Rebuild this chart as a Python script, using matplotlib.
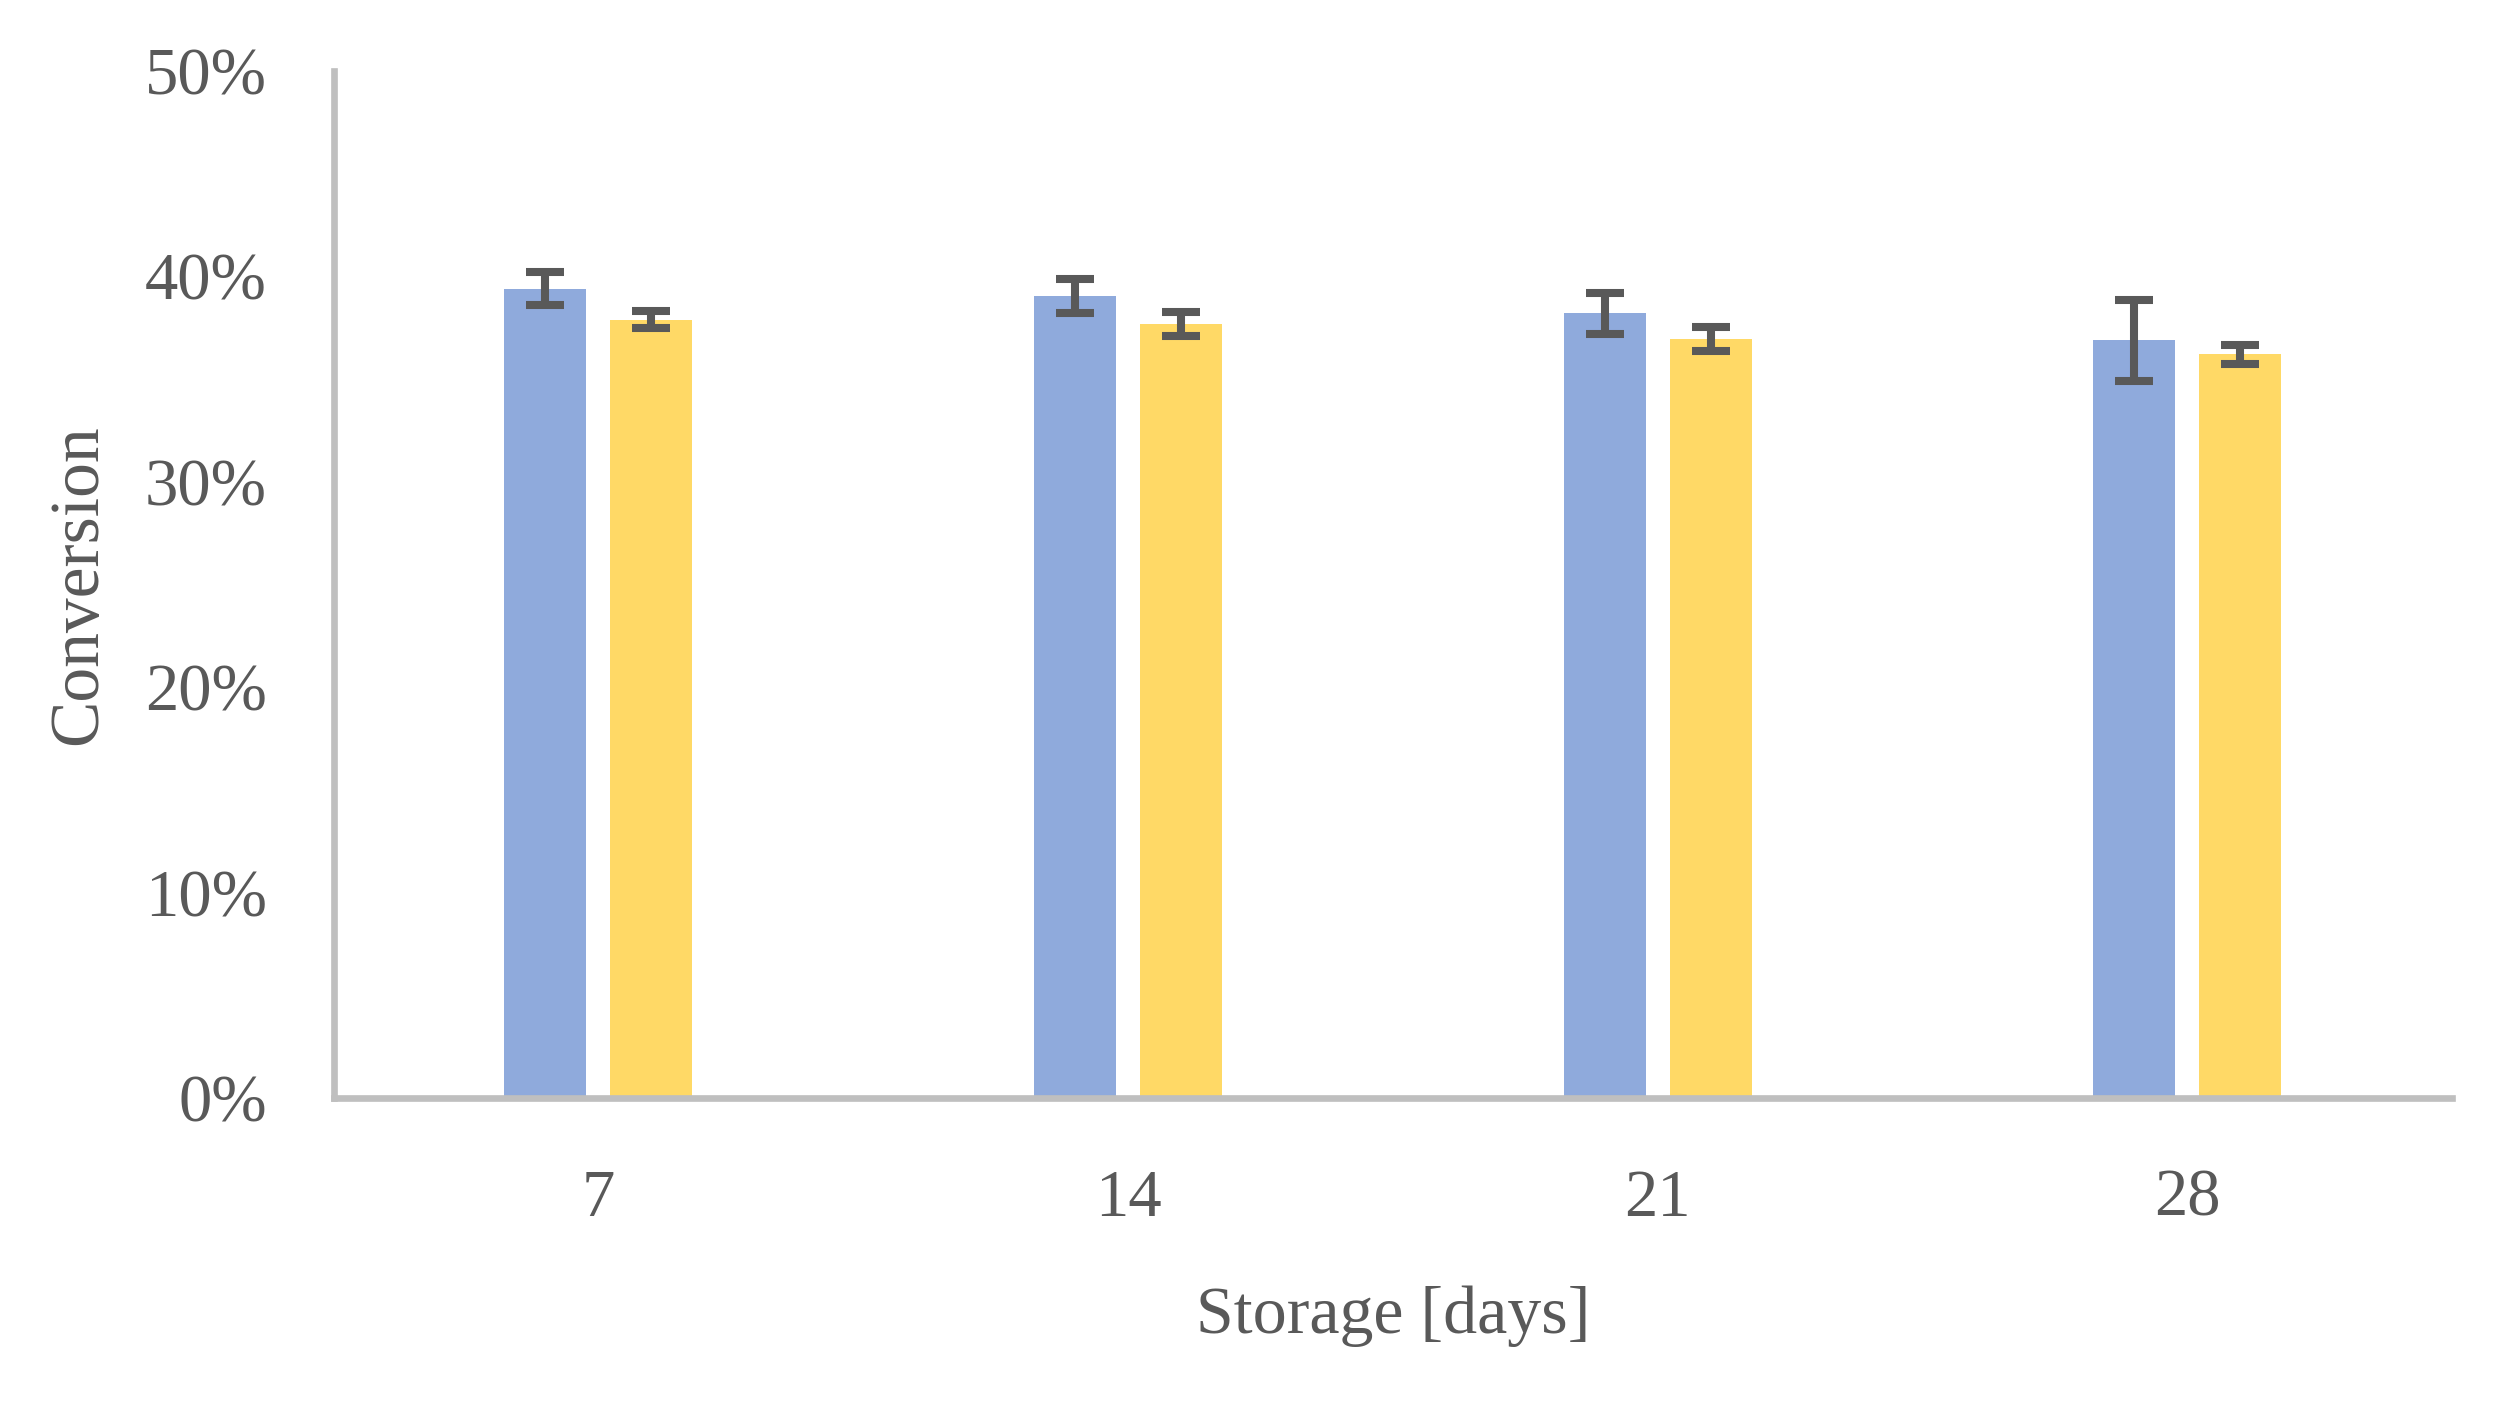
import numpy as np
import matplotlib
matplotlib.use('Agg')
import matplotlib.pyplot as plt
from matplotlib.ticker import PercentFormatter

days = ['7', '14', '21', '28']
series_a = [39.4, 39.05, 38.2, 36.9]
series_a_err = [0.8, 0.83, 1.0, 1.97]
series_b = [37.9, 37.7, 36.95, 36.2]
series_b_err = [0.43, 0.58, 0.58, 0.46]

text_color = '#595959'
axis_color = '#BFBFBF'
plt.rcParams['font.family'] = ['Liberation Serif', 'DejaVu Serif']

fig = plt.figure(figsize=(24.93, 14.02), dpi=100)
ax = fig.add_axes([0.1338, 0.2168, 0.8498, 0.7326])

x = np.arange(len(days))
width = 0.155
offset = 0.10
err_style = dict(ecolor=text_color, elinewidth=5.8, capsize=14, capthick=5.8)

ax.bar(x - offset, series_a, width, color='#8FAADC', yerr=series_a_err,
       error_kw=err_style, zorder=2)
ax.bar(x + offset, series_b, width, color='#FFD966', yerr=series_b_err,
       error_kw=err_style, zorder=2)

ax.set_xlim(-0.5, len(days) - 0.5)
ax.set_ylim(0, 50)
ax.set_xticks(x)
ax.set_xticklabels(days)
ax.set_yticks(np.arange(0, 51, 10))
ax.yaxis.set_major_formatter(PercentFormatter(decimals=0))

for side in ['top', 'right']:
    ax.spines[side].set_visible(False)
for side in ['left', 'bottom']:
    ax.spines[side].set_color(axis_color)
    ax.spines[side].set_linewidth(4.8)
    ax.spines[side].set_zorder(3)

ax.tick_params(axis='both', length=0, labelsize=48, labelcolor=text_color)
ax.tick_params(axis='y', pad=48)
ax.tick_params(axis='x', pad=51)

ax.set_xlabel('Storage [days]', fontsize=49, color=text_color, labelpad=40)
ax.set_ylabel('Conversion', fontsize=50, color=text_color, labelpad=24)

fig.savefig('out.png', dpi=100, facecolor='white')
